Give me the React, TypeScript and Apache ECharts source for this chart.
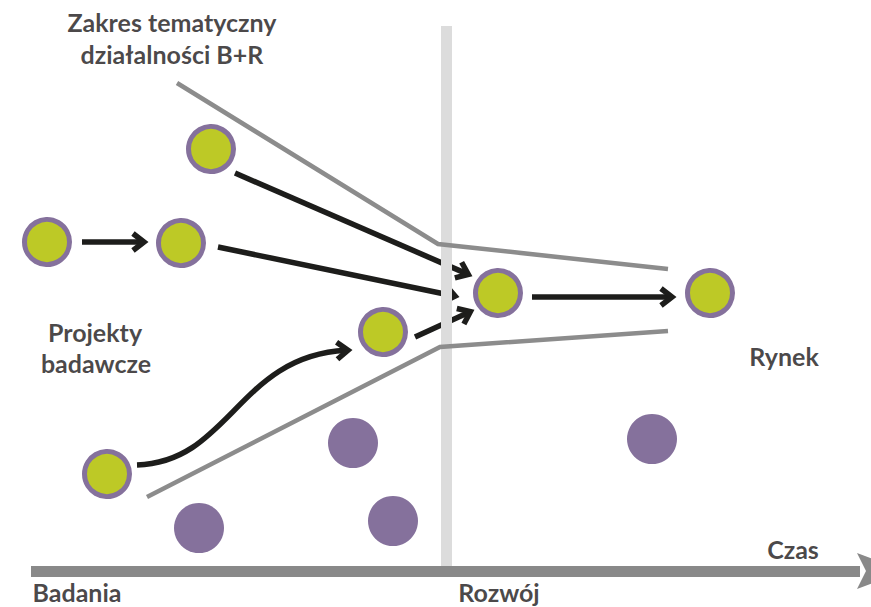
import React, { useEffect, useRef } from "react";
import * as echarts from "echarts";

// Diagram coordinates (data units = pixels on an 871 x 607 plane)
const greenNodes: number[][] = [
  [211, 149], [47, 242], [181, 243], [383, 332], [498, 293], [710, 293], [107, 474],
];
const purpleNodes: number[][] = [
  [353, 443], [199, 528], [393, 521], [652, 439],
];
const funnelUpper: number[][] = [[177, 83], [438, 244], [668, 269]];
const funnelLower: number[][] = [[147, 497], [440, 347], [668, 331]];
const stageDivider: number[][] = [[446.5, 26], [446.5, 566]];
const timeAxisBar: number[][] = [[31, 571.5], [860, 571.5]];
const timeAxisHead: number[][] = [[857, 553, 905, 571, 857, 589, 866, 571]];
const straightArrows: number[][] = [
  [82, 242, 148, 242],
  [235, 173, 472, 276],
  [218, 247, 459, 297],
  [415, 337, 474, 310],
  [532, 297, 676, 297],
];
const curvedArrows: number[][] = [[137, 465, 230, 462, 238, 356, 352, 350]];
const textLabels = [
  { name: "Zakres tematyczny", value: [172, 22] },
  { name: "działalności B+R", value: [172, 54] },
  { name: "Projekty", value: [95, 332] },
  { name: "badawcze", value: [96, 363] },
  { name: "Rynek", value: [784, 356] },
  { name: "Czas", value: [793, 549] },
  { name: "Badania", value: [77, 592] },
  { name: "Rozwój", value: [499, 592] },
];

const GREEN = "#bdc926";
const PURPLE = "#85719c";
const GRAY = "#8c8c8c";
const BAND = "#dcdcdc";
const BLACK = "#1d1d1b";
const TEXT = "#1a1718";

function chevron(tip: number[], ux: number, uy: number, color: string) {
  const nx = -uy, ny = ux;
  const v = [tip[0] - 4 * ux, tip[1] - 4 * uy];
  const back = 11, half = 8.5;
  const a = [v[0] - back * ux + half * nx, v[1] - back * uy + half * ny];
  const b = [v[0] - back * ux - half * nx, v[1] - back * uy - half * ny];
  return {
    el: {
      type: "polyline",
      shape: { points: [a, v, b] },
      style: { stroke: color, lineWidth: 5.5, fill: null, lineJoin: "miter", lineCap: "butt" },
    },
    v,
  };
}

export default function App() {
  const ref = useRef<HTMLDivElement>(null);
  useEffect(() => {
    if (!ref.current) return;
    const chart = echarts.init(ref.current, null, { renderer: "svg" });
    chart.setOption({
      animation: false,
      backgroundColor: "#ffffff",
      grid: { left: 0, right: 0, top: 0, bottom: 0, containLabel: false },
      xAxis: { type: "value", min: 0, max: 871, show: false },
      yAxis: { type: "value", min: 0, max: 607, inverse: true, show: false },
      series: [
        {
          type: "line", data: stageDivider, symbol: "none", silent: true,
          lineStyle: { color: BAND, width: 11, cap: "butt" },
        },
        {
          type: "line", data: funnelUpper, symbol: "none", silent: true,
          lineStyle: { color: GRAY, width: 4.5, cap: "butt", join: "miter" },
        },
        {
          type: "line", data: funnelLower, symbol: "none", silent: true,
          lineStyle: { color: GRAY, width: 4.5, cap: "butt", join: "miter" },
        },
        {
          type: "line", data: timeAxisBar, symbol: "none", silent: true,
          lineStyle: { color: "#898989", width: 11, cap: "butt" },
        },
        {
          type: "custom", data: timeAxisHead, silent: true, clip: false,
          encode: { x: [0, 2, 4, 6], y: [1, 3, 5, 7] },
          renderItem: (_p: any, api: any) => {
            const pts: number[][] = [];
            for (let i = 0; i < 4; i++) pts.push(api.coord([api.value(2 * i), api.value(2 * i + 1)]));
            return { type: "polygon", shape: { points: pts }, style: { fill: "#898989" } };
          },
        },
        {
          type: "custom", data: straightArrows, silent: true,
          encode: { x: [0, 2], y: [1, 3] },
          renderItem: (_p: any, api: any) => {
            const p1 = api.coord([api.value(0), api.value(1)]);
            const p2 = api.coord([api.value(2), api.value(3)]);
            const dx = p2[0] - p1[0], dy = p2[1] - p1[1];
            const L = Math.hypot(dx, dy);
            const ux = dx / L, uy = dy / L;
            const c = chevron(p2, ux, uy, BLACK);
            return {
              type: "group",
              children: [
                {
                  type: "line",
                  shape: { x1: p1[0], y1: p1[1], x2: c.v[0] - 2 * ux, y2: c.v[1] - 2 * uy },
                  style: { stroke: BLACK, lineWidth: 5.5, lineCap: "butt" },
                },
                c.el,
              ],
            };
          },
        },
        {
          type: "custom", data: curvedArrows, silent: true,
          encode: { x: [0, 2, 4, 6], y: [1, 3, 5, 7] },
          renderItem: (_p: any, api: any) => {
            const s = api.coord([api.value(0), api.value(1)]);
            const c1 = api.coord([api.value(2), api.value(3)]);
            const c2 = api.coord([api.value(4), api.value(5)]);
            const e = api.coord([api.value(6), api.value(7)]);
            const dx = e[0] - c2[0], dy = e[1] - c2[1];
            const L = Math.hypot(dx, dy);
            const ux = dx / L, uy = dy / L;
            const c = chevron(e, ux, uy, BLACK);
            return {
              type: "group",
              children: [
                {
                  type: "bezierCurve",
                  shape: {
                    x1: s[0], y1: s[1], cpx1: c1[0], cpy1: c1[1], cpx2: c2[0], cpy2: c2[1],
                    x2: c.v[0] - 2 * ux, y2: c.v[1] - 2 * uy,
                  },
                  style: { stroke: BLACK, lineWidth: 5.5, fill: null, lineCap: "butt" },
                },
                c.el,
              ],
            };
          },
        },
        {
          type: "scatter", data: purpleNodes, symbol: "circle", symbolSize: 50, silent: true,
          itemStyle: { color: PURPLE, opacity: 1 },
        },
        {
          type: "scatter", data: greenNodes, symbol: "circle", symbolSize: 45, silent: true,
          itemStyle: { color: GREEN, borderColor: PURPLE, borderWidth: 5, opacity: 1 },
        },
        {
          type: "scatter", data: textLabels, symbol: "circle", symbolSize: 1, silent: true,
          itemStyle: { color: "transparent" },
          label: {
            show: true, position: "inside", formatter: "{b}",
            fontFamily: "Lato", fontWeight: "bold", fontSize: 25, color: TEXT,
            align: "center", verticalAlign: "middle",
          },
        },
      ],
    });
    return () => chart.dispose();
  }, []);
  return (
    <div
      ref={ref}
      style={{ position: "absolute", left: 0, top: 0, width: 871, height: 607 }}
    />
  );
}
